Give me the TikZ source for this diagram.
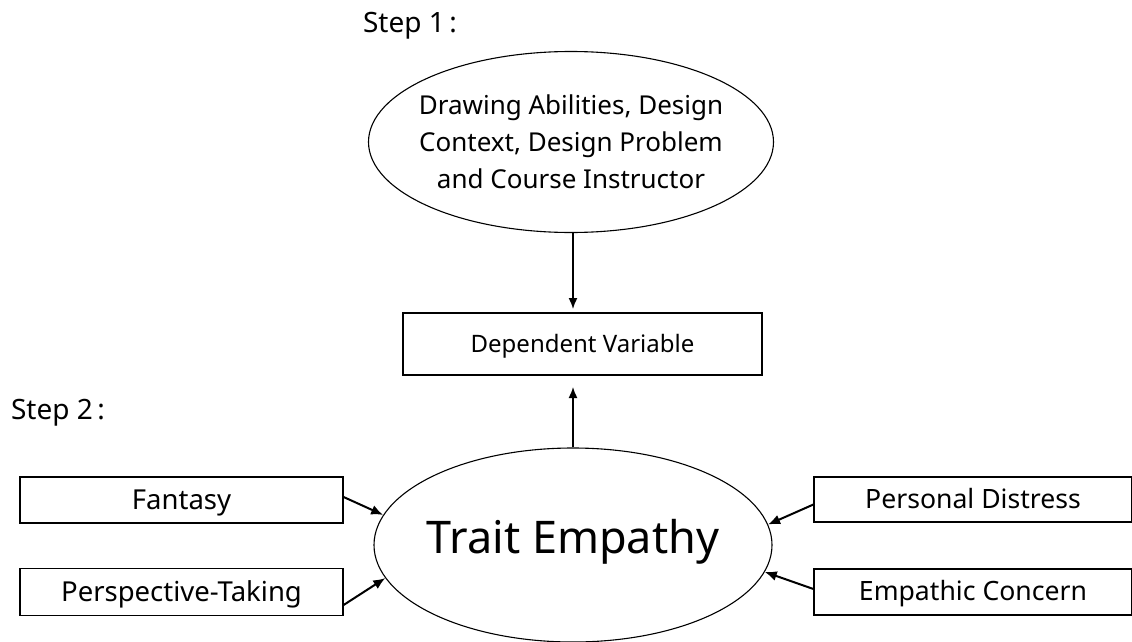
\documentclass[tikz,border=0pt]{standalone}
\usepackage{fontspec}
\setmainfont{Noto Sans}
\usetikzlibrary{shapes.geometric,arrows.meta}
\begin{document}
\begin{tikzpicture}[x=1pt,y=-1pt,
  box/.style={draw, line width=1.2pt, rectangle, inner sep=0pt},
  oval/.style={draw, line width=1.1pt, ellipse, inner sep=0pt},
  lbl/.style={inner sep=0pt, font=\fontsize{28}{32}\selectfont},
  fs/.style={font=\fontsize{#1}{#1}\selectfont},
  bfs/.style={font=\fontsize{#1}{#1}\selectfont,
              text height=0.72*#1pt, text depth=0.05*#1pt},
  link/.style={line width=2pt, -{Latex[length=12pt,width=10pt]}},
  vlink/.style={line width=1.5pt, -{Latex[length=11pt,width=9pt]}}]
\useasboundingbox (0,0) rectangle (1132,642);

% step labels
\node[lbl] (s1) at (410,26) {Step 1\,:};
\node[lbl] (s2) at (58,413) {Step 2\,:};

% step 1: control variables and outcome box
\node[oval, minimum width=405pt, minimum height=181pt] (ctrl) at (571,142) {};
\node[align=center, inner sep=0pt, font=\fontsize{26}{37}\selectfont] (ctrltext) at (ctrl.center)
  {Drawing Abilities, Design\\Context, Design Problem\\and Course Instructor};
\node[box, bfs=24, minimum width=359pt, minimum height=62pt] (dv) at (582.5,344) {Dependent Variable};

% step 2: predictor and its subscales
\node[oval, minimum width=398pt, minimum height=194pt] (te) at (573,545) {};
\node[inner sep=0pt, fs=45, anchor=base] (tetext) at (573,553) {Trait Empathy};
\node[box, bfs=27.5, minimum width=323pt, minimum height=46pt] (fan) at (181.5,500) {Fantasy};
\node[box, bfs=27.5, minimum width=323pt, minimum height=47pt] (per) at (181.5,592) {Perspective-Taking};
\node[box, bfs=26.6, minimum width=318pt, minimum height=45pt] (pd) at (973,499.5) {Personal Distress};
\node[box, bfs=26.6, minimum width=318pt, minimum height=46pt] (ec) at (973,592) {Empathic Concern};

% connectors
\draw[vlink] (ctrl.south -| 573,0) -- (573,309) coordinate (dvin);
\draw[vlink] (te.north -| 573,0) -- (573,387) coordinate (dvout);
\draw[link] ([yshift=3pt]fan.east) -- (te.171);
\draw[link] ([yshift=-13pt]per.east) -- (te.190);
\draw[link] ([yshift=-5pt]pd.west) -- (te.6);
\draw[link] ([yshift=3pt]ec.west) -- (te.352);
\end{tikzpicture}
\end{document}
